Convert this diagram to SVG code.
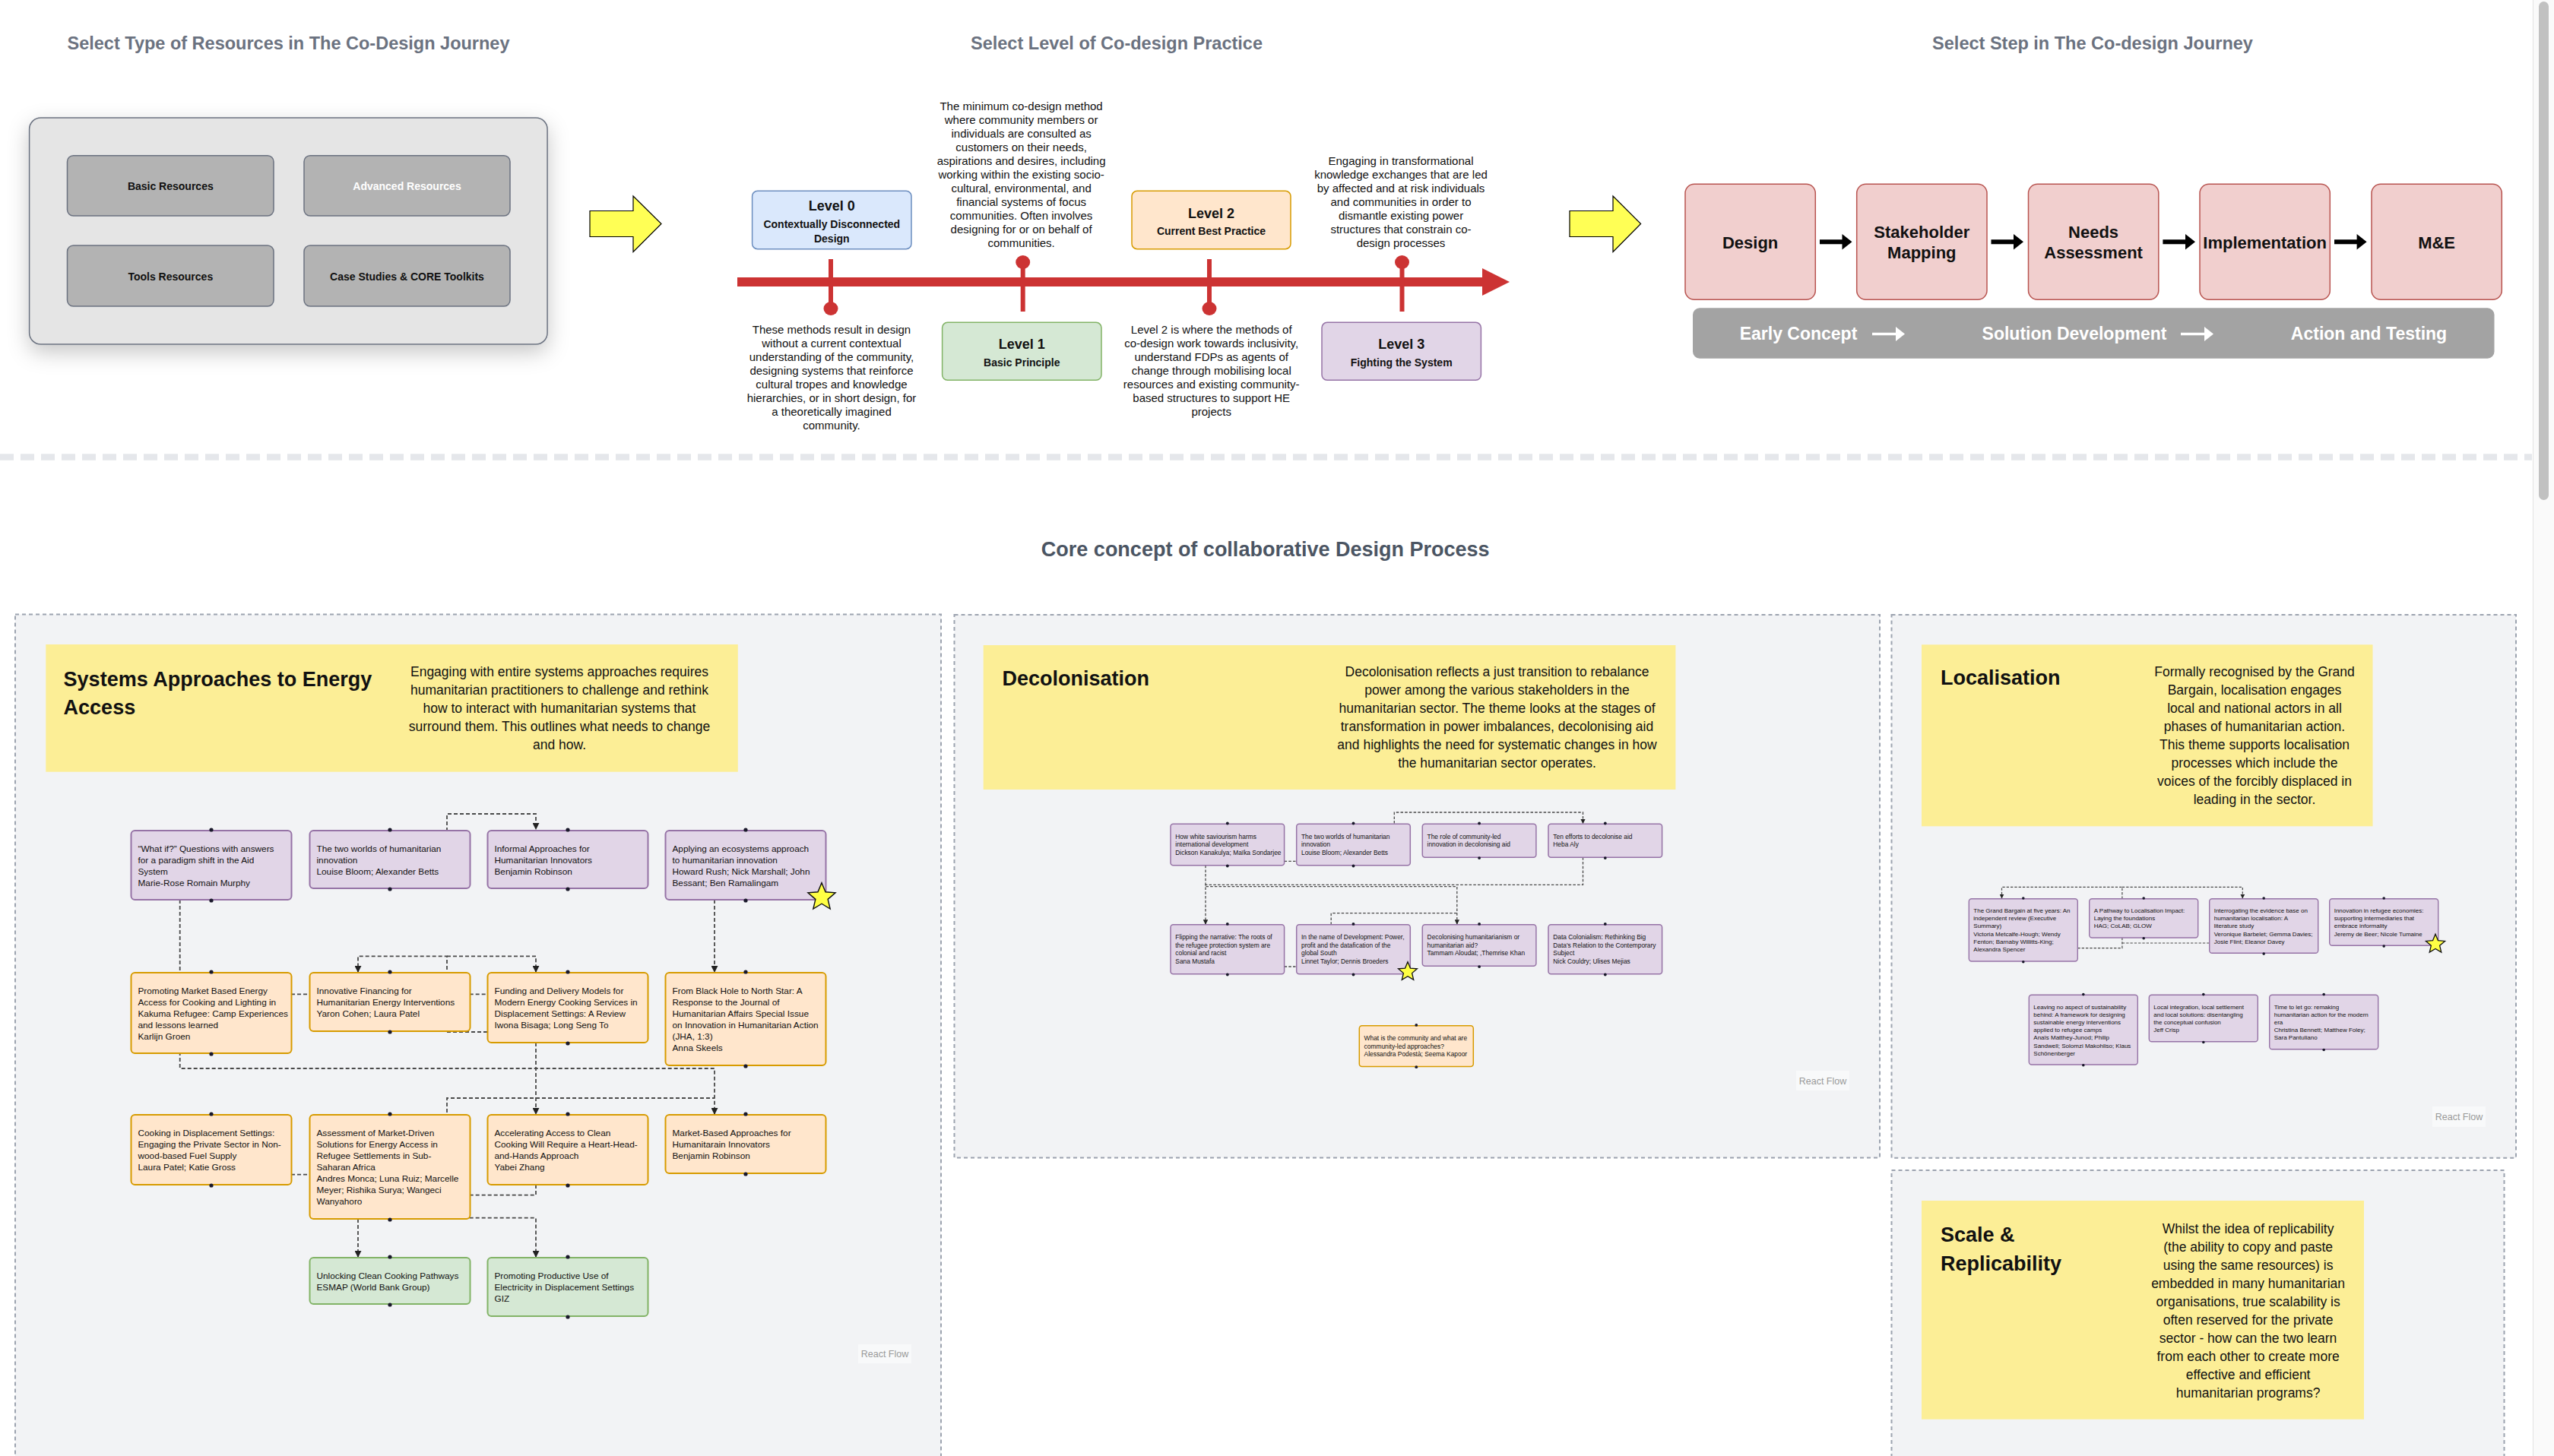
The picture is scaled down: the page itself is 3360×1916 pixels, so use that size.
<svg xmlns="http://www.w3.org/2000/svg" width="3360" height="1916" viewBox="0 0 3360 1916">
<style>
text{font-family:'Liberation Sans',Arial,Helvetica,sans-serif;fill:#111}
.ttl{font-size:23.5px;font-weight:700;fill:#6b7280;text-anchor:middle}
.core{font-size:27px;font-weight:700;fill:#4b5563;text-anchor:middle}
.res{fill:#b3b3b3;stroke:#6b7280;stroke-width:1.5}
.restxt{font-size:14px;font-weight:700;text-anchor:middle}
.lvl-h{font-size:18px;font-weight:700;text-anchor:middle}
.lvl-s{font-size:14px;font-weight:700;text-anchor:middle}
.lvl-d{font-size:15px;text-anchor:middle}
.red{fill:#cc3333}
.tick{stroke:#cc3333;stroke-width:6}
.step{fill:#f1cfce;stroke:#b85450;stroke-width:1.5}
.steptxt{font-size:22px;font-weight:700;text-anchor:middle}
.phase{font-size:23px;font-weight:700;fill:#fff;text-anchor:middle}
.yarrow{fill:#ffff55;stroke:#000;stroke-width:1.2}
.panel{fill:#f2f3f5;stroke:#9ca3af;stroke-width:2;stroke-dasharray:5 4}
.hdr{fill:#fcee96}
.hdr-t{font-size:27px;font-weight:700}
.hdr-d{font-size:17.5px;text-anchor:middle}
.np{fill:#e1d5e7;stroke:#9673a6}
.no{fill:#ffe6cc;stroke:#d79b00}
.ng{fill:#d5e8d4;stroke:#82b366}
.f1 rect{stroke-width:2}
.f2 rect{stroke-width:1.5}
.f3 rect{stroke-width:1.4}
.n1{font-size:11.8px}
.n2{font-size:8.4px}
.n3{font-size:8px}
.h{fill:#1a192b}
.e{fill:none;stroke:#4a4a4a}
.e1{stroke-width:1.8;stroke-dasharray:5 3}
.e2{stroke-width:1.3;stroke-dasharray:3.5 2.2}
.e3{stroke-width:1.2;stroke-dasharray:3.3 2}
.star{fill:#ffff44;stroke:#111;stroke-width:1.4}
.rf rect{fill:#f8f9fa}
.rf text{font-size:12.5px;fill:#999;text-anchor:middle}
</style>
<defs>
  <filter id="shadow" x="-20%" y="-20%" width="140%" height="160%">
    <feDropShadow dx="0" dy="10" stdDeviation="14" flood-color="#000" flood-opacity="0.22"/>
  </filter>
  <marker id="ah1" viewBox="0 0 10 10" refX="9" refY="5" markerWidth="9" markerHeight="9" markerUnits="userSpaceOnUse" orient="auto"><path d="M0,0 L10,5 L0,10 z" fill="#222"/></marker>
  <marker id="ah2" viewBox="0 0 10 10" refX="9" refY="5" markerWidth="6.5" markerHeight="6.5" markerUnits="userSpaceOnUse" orient="auto"><path d="M0,0 L10,5 L0,10 z" fill="#222"/></marker>
  <marker id="ah3" viewBox="0 0 10 10" refX="9" refY="5" markerWidth="6" markerHeight="6" markerUnits="userSpaceOnUse" orient="auto"><path d="M0,0 L10,5 L0,10 z" fill="#222"/></marker>
  <polygon id="starshape" points="0,-1 0.2645,-0.3641 0.9511,-0.309 0.428,0.1391 0.5878,0.809 0,0.45 -0.5878,0.809 -0.428,0.1391 -0.9511,-0.309 -0.2645,-0.3641"/>
</defs>

<rect width="3360" height="1916" fill="#fff"/>

<!-- page scrollbar -->
<g id="scrollbar">
  <rect x="3332" y="0" width="28" height="1916" fill="#fafafa"/>
  <line x1="3332.5" y1="0" x2="3332.5" y2="1916" stroke="#e3e3e3" stroke-width="1"/>
  <rect x="3340" y="2" width="13" height="656" rx="6.5" fill="#c1c1c1"/>
</g>

<!-- ===== section titles ===== -->
<text class="ttl" x="379.5" y="65">Select Type of Resources in The Co-Design Journey</text>
<text class="ttl" x="1469" y="65">Select Level of Co-design Practice</text>
<text class="ttl" x="2753" y="65">Select Step in The Co-design Journey</text>

<!-- ===== resource types ===== -->
<g id="resource-panel">
  <rect x="38.6" y="155" width="681.5" height="298" rx="15" fill="#e5e5e5" stroke="#6b7280" stroke-width="1.5" filter="url(#shadow)"/>
  <g id="res-basic"><rect class="res" x="88.5" y="204.7" width="271.5" height="79.3" rx="8"/><text class="restxt" x="224.3" y="250">Basic Resources</text></g>
  <g id="res-advanced"><rect class="res" x="400" y="204.7" width="271" height="79.3" rx="8"/><text class="restxt" x="535.5" y="250" style="fill:#fff">Advanced Resources</text></g>
  <g id="res-tools"><rect class="res" x="88.5" y="323" width="271.5" height="80" rx="8"/><text class="restxt" x="224.3" y="369">Tools Resources</text></g>
  <g id="res-cases"><rect class="res" x="400" y="323" width="271" height="80" rx="8"/><text class="restxt" x="535.5" y="369">Case Studies &amp; CORE Toolkits</text></g>
</g>

<g id="pointer-arrows">
  <polygon class="yarrow" points="776,277.5 833,277.5 833,258 870,294.5 833,331.5 833,311.5 776,311.5"/>
  <polygon class="yarrow" points="2065,277.5 2122,277.5 2122,258 2158.6,294.5 2122,331.5 2122,311.5 2065,311.5"/>
</g>

<!-- ===== levels of practice timeline ===== -->
<g id="timeline">
  <rect class="red" x="970" y="365" width="982" height="12"/>
  <polygon class="red" points="1950,353 1986,371 1950,389"/>
  <line class="tick" x1="1093" y1="341" x2="1093" y2="402"/><ellipse class="red" cx="1093" cy="406" rx="9.5" ry="9"/>
  <line class="tick" x1="1345.7" y1="349" x2="1345.7" y2="410"/><ellipse class="red" cx="1345.7" cy="345" rx="9.5" ry="9"/>
  <line class="tick" x1="1591" y1="341" x2="1591" y2="402"/><ellipse class="red" cx="1591" cy="406" rx="9.5" ry="9"/>
  <line class="tick" x1="1844.5" y1="349" x2="1844.5" y2="410"/><ellipse class="red" cx="1844.5" cy="345" rx="9.5" ry="9"/>
</g>

<g id="level-0">
  <rect x="989.6" y="251.3" width="209.4" height="76.4" rx="7" fill="#dae8fc" stroke="#6c8ebf" stroke-width="1.5"/>
  <text class="lvl-h" x="1094.3" y="277">Level 0</text>
  <text class="lvl-s" x="1094.3" y="300">Contextually Disconnected</text>
  <text class="lvl-s" x="1094.3" y="319">Design</text>
  <text class="lvl-d" x="1094"><tspan x="1094" y="438.5">These methods result in design</tspan><tspan x="1094" y="456.5">without a current contextual</tspan><tspan x="1094" y="474.5">understanding of the community,</tspan><tspan x="1094" y="492.5">designing systems that reinforce</tspan><tspan x="1094" y="510.5">cultural tropes and knowledge</tspan><tspan x="1094" y="528.5">hierarchies, or in short design, for</tspan><tspan x="1094" y="546.5">a theoretically imagined</tspan><tspan x="1094" y="564.5">community.</tspan></text>
</g>
<g id="level-1">
  <rect x="1239.6" y="424.3" width="209.4" height="76" rx="7" fill="#d5e8d4" stroke="#82b366" stroke-width="1.5"/>
  <text class="lvl-h" x="1344.3" y="458.6">Level 1</text>
  <text class="lvl-s" x="1344.3" y="482">Basic Principle</text>
  <text class="lvl-d" x="1343.6"><tspan x="1343.6" y="144.5">The minimum co-design method</tspan><tspan x="1343.6" y="162.5">where community members or</tspan><tspan x="1343.6" y="180.5">individuals are consulted as</tspan><tspan x="1343.6" y="198.5">customers on their needs,</tspan><tspan x="1343.6" y="216.5">aspirations and desires, including</tspan><tspan x="1343.6" y="234.5">working within the existing socio-</tspan><tspan x="1343.6" y="252.5">cultural, environmental, and</tspan><tspan x="1343.6" y="270.5">financial systems of focus</tspan><tspan x="1343.6" y="288.5">communities. Often involves</tspan><tspan x="1343.6" y="306.5">designing for or on behalf of</tspan><tspan x="1343.6" y="324.5">communities.</tspan></text>
</g>
<g id="level-2">
  <rect x="1489" y="251.3" width="209" height="76.4" rx="7" fill="#ffe6cc" stroke="#d79b00" stroke-width="1.5"/>
  <text class="lvl-h" x="1593.5" y="287">Level 2</text>
  <text class="lvl-s" x="1593.5" y="309">Current Best Practice</text>
  <text class="lvl-d" x="1593.7"><tspan x="1593.7" y="438.5">Level 2 is where the methods of</tspan><tspan x="1593.7" y="456.5">co-design work towards inclusivity,</tspan><tspan x="1593.7" y="474.5">understand FDPs as agents of</tspan><tspan x="1593.7" y="492.5">change through mobilising local</tspan><tspan x="1593.7" y="510.5">resources and existing community-</tspan><tspan x="1593.7" y="528.5">based structures to support HE</tspan><tspan x="1593.7" y="546.5">projects</tspan></text>
</g>
<g id="level-3">
  <rect x="1739" y="424.3" width="209.4" height="76" rx="7" fill="#e1d5e7" stroke="#9673a6" stroke-width="1.5"/>
  <text class="lvl-h" x="1843.7" y="458.6">Level 3</text>
  <text class="lvl-s" x="1843.7" y="482">Fighting the System</text>
  <text class="lvl-d" x="1843"><tspan x="1843" y="216.5">Engaging in transformational</tspan><tspan x="1843" y="234.5">knowledge exchanges that are led</tspan><tspan x="1843" y="252.5">by affected and at risk individuals</tspan><tspan x="1843" y="270.5">and communities in order to</tspan><tspan x="1843" y="288.5">dismantle existing power</tspan><tspan x="1843" y="306.5">structures that constrain co-</tspan><tspan x="1843" y="324.5">design processes</tspan></text>
</g>

<!-- ===== journey steps ===== -->
<g id="step-design"><rect class="step" x="2217" y="242.3" width="171.3" height="152" rx="12"/><text class="steptxt" x="2302.6" y="327">Design</text></g>
<g id="step-stakeholder"><rect class="step" x="2442.7" y="242.3" width="171.3" height="152" rx="12"/><text class="steptxt" x="2528.3" y="312.7">Stakeholder</text><text class="steptxt" x="2528.3" y="340">Mapping</text></g>
<g id="step-needs"><rect class="step" x="2668.5" y="242.3" width="171.3" height="152" rx="12"/><text class="steptxt" x="2754.1" y="312.7">Needs</text><text class="steptxt" x="2754.1" y="340">Assessment</text></g>
<g id="step-implementation"><rect class="step" x="2894" y="242.3" width="171.3" height="152" rx="12"/><text class="steptxt" x="2979.6" y="327">Implementation</text></g>
<g id="step-me"><rect class="step" x="3120" y="242.3" width="171.3" height="152" rx="12"/><text class="steptxt" x="3205.6" y="327">M&amp;E</text></g>
<g id="step-arrows" fill="#000">
  <polygon points="2394,315.3 2423.5,315.3 2423.5,308 2436.5,318.3 2423.5,328.6 2423.5,321.3 2394,321.3"/>
  <polygon points="2619.5,315.3 2649,315.3 2649,308 2662,318.3 2649,328.6 2649,321.3 2619.5,321.3"/>
  <polygon points="2845.4,315.3 2875,315.3 2875,308 2888,318.3 2875,328.6 2875,321.3 2845.4,321.3"/>
  <polygon points="3071,315.3 3100.6,315.3 3100.6,308 3113.6,318.3 3100.6,328.6 3100.6,321.3 3071,321.3"/>
</g>
<g id="phases">
  <rect x="2227" y="405.3" width="1054.5" height="66.4" rx="9" fill="#a3a3a3"/>
  <text class="phase" x="2366" y="447">Early Concept</text>
  <polygon fill="#fff" points="2463,437.7 2494,437.7 2494,430 2506,439.5 2494,449 2494,441.3 2463,441.3"/>
  <text class="phase" x="2729" y="447">Solution Development</text>
  <polygon fill="#fff" points="2869,437.7 2900,437.7 2900,430 2912,439.5 2900,449 2900,441.3 2869,441.3"/>
  <text class="phase" x="3116.5" y="447">Action and Testing</text>
</g>

<!-- section divider -->
<line x1="0" y1="601.5" x2="3331" y2="601.5" stroke="#e5e7eb" stroke-width="8.5" stroke-dasharray="18 9"/>

<text class="core" x="1664.7" y="732">Core concept of collaborative Design Process</text>

<!-- ===== theme panels ===== -->
<rect class="panel" x="20" y="808.5" width="1218" height="1130"/>
<rect class="panel" x="1255.5" y="809" width="1217.5" height="714.5"/>
<rect class="panel" x="2488.5" y="809" width="821.5" height="714.7"/>
<rect class="panel" x="2488.5" y="1540" width="806" height="400"/>

<!-- Systems approaches header -->
<g id="hdr-systems">
  <rect class="hdr" x="60.3" y="848" width="910.5" height="167.7"/>
  <text class="hdr-t" x="83.6" y="903">Systems Approaches to Energy</text>
  <text class="hdr-t" x="83.6" y="940">Access</text>
  <text class="hdr-d" x="736"><tspan x="736" y="890.3">Engaging with entire systems approaches requires</tspan><tspan x="736" y="914.3">humanitarian practitioners to challenge and rethink</tspan><tspan x="736" y="938.3">how to interact with humanitarian systems that</tspan><tspan x="736" y="962.3">surround them. This outlines what needs to change</tspan><tspan x="736" y="986.3">and how.</tspan></text>
</g>

<!-- Decolonisation header -->
<g id="hdr-decolonisation">
  <rect class="hdr" x="1293.7" y="849" width="910.7" height="190"/>
  <text class="hdr-t" x="1318.5" y="901.5">Decolonisation</text>
  <text class="hdr-d" x="1969.5"><tspan x="1969.5" y="890.3">Decolonisation reflects a just transition to rebalance</tspan><tspan x="1969.5" y="914.3">power among the various stakeholders in the</tspan><tspan x="1969.5" y="938.3">humanitarian sector. The theme looks at the stages of</tspan><tspan x="1969.5" y="962.3">transformation in power imbalances, decolonising aid</tspan><tspan x="1969.5" y="986.3">and highlights the need for systematic changes in how</tspan><tspan x="1969.5" y="1010.3">the humanitarian sector operates.</tspan></text>
</g>

<!-- Localisation header -->
<g id="hdr-localisation">
  <rect class="hdr" x="2528" y="848.3" width="593.5" height="239"/>
  <text class="hdr-t" x="2553" y="901">Localisation</text>
  <text class="hdr-d" x="2966"><tspan x="2966" y="890.3">Formally recognised by the Grand</tspan><tspan x="2966" y="914.3">Bargain, localisation engages</tspan><tspan x="2966" y="938.3">local and national actors in all</tspan><tspan x="2966" y="962.3">phases of humanitarian action.</tspan><tspan x="2966" y="986.3">This theme supports localisation</tspan><tspan x="2966" y="1010.3">processes which include the</tspan><tspan x="2966" y="1034.3">voices of the forcibly displaced in</tspan><tspan x="2966" y="1058.3">leading in the sector.</tspan></text>
</g>

<!-- Scale & Replicability header -->
<g id="hdr-scale">
  <rect class="hdr" x="2528" y="1580" width="582" height="287.7"/>
  <text class="hdr-t" x="2553" y="1633.5">Scale &amp;</text>
  <text class="hdr-t" x="2553" y="1672">Replicability</text>
  <text class="hdr-d" x="2957.6"><tspan x="2957.6" y="1622.7">Whilst the idea of replicability</tspan><tspan x="2957.6" y="1646.7">(the ability to copy and paste</tspan><tspan x="2957.6" y="1670.7">using the same resources) is</tspan><tspan x="2957.6" y="1694.7">embedded in many humanitarian</tspan><tspan x="2957.6" y="1718.7">organisations, true scalability is</tspan><tspan x="2957.6" y="1742.7">often reserved for the private</tspan><tspan x="2957.6" y="1766.7">sector - how can the two learn</tspan><tspan x="2957.6" y="1790.7">from each other to create more</tspan><tspan x="2957.6" y="1814.7">effective and efficient</tspan><tspan x="2957.6" y="1838.7">humanitarian programs?</tspan></text>
</g>

<!-- ===== connectors (drawn beneath nodes) ===== -->
<g id="connectors">
  <!-- systems approaches -->
  <path class="e e1" d="M588 1110 V1071 H705 V1091" marker-end="url(#ah1)"/>
  <path class="e e1" d="M236.7 1184 V1406 H940 V1466" marker-end="url(#ah1)"/>
  <path class="e e1" d="M940 1184 V1279" marker-end="url(#ah1)"/>
  <path class="e e1" d="M588 1300 V1258.3 H471 V1279" marker-end="url(#ah1)"/>
  <path class="e e1" d="M588 1258.3 H705 V1279" marker-end="url(#ah1)"/>
  <path class="e e1" d="M383 1308.3 H408"/>
  <path class="e e1" d="M617.7 1308.3 H642"/>
  <path class="e e1" d="M588 1358 H642"/>
  <path class="e e1" d="M705 1372 V1466" marker-end="url(#ah1)"/>
  <path class="e e1" d="M588 1480 V1445 H940"/>
  <path class="e e1" d="M383 1545.7 H408"/>
  <path class="e e1" d="M705 1559 V1572.7 H617.7"/>
  <path class="e e1" d="M617.7 1602.7 H705 V1654" marker-end="url(#ah1)"/>
  <path class="e e1" d="M471 1604 V1654" marker-end="url(#ah1)"/>
  <!-- decolonisation -->
  <path class="e e2" d="M1834.3 1095 V1069 H2082.5 V1083.5" marker-end="url(#ah2)"/>
  <path class="e e2" d="M1689.6 1133.3 H1705.7"/>
  <path class="e e2" d="M2082.5 1128.3 V1164.3 H1586 V1216" marker-end="url(#ah2)"/>
  <path class="e e2" d="M1586 1138.7 V1166.7 H1916.8 V1216" marker-end="url(#ah2)"/>
  <path class="e e2" d="M1751.2 1216.7 V1201.7 H1916.8"/>
  <path class="e e2" d="M1689.6 1272 H1705.7"/>
  <!-- localisation -->
  <path class="e e3" d="M2791.9 1182.7 V1167.3 H2633.5 V1182" marker-end="url(#ah3)"/>
  <path class="e e3" d="M2791.9 1167.3 H2950.3 V1182" marker-end="url(#ah3)"/>
  <path class="e e3" d="M2791.9 1234 V1247.7 H2733.1"/>
  <path class="e e3" d="M2791.9 1241 H2906.7"/>
</g>

<!-- ===== Systems approaches nodes ===== -->
<g class="f1">
<g id="sys-what-if"><rect class="np" x="172.5" y="1093" width="211" height="91" rx="5"/>
  <text class="n1"><tspan x="181.5" y="1120.5">“What if?” Questions with answers</tspan><tspan x="181.5" y="1135.5">for a paradigm shift in the Aid</tspan><tspan x="181.5" y="1150.5">System</tspan><tspan x="181.5" y="1165.5">Marie-Rose Romain Murphy</tspan></text>
  <circle class="h" cx="278" cy="1092" r="2.6"/><circle class="h" cx="278" cy="1185" r="2.6"/></g>
<g id="sys-two-worlds"><rect class="np" x="407.5" y="1093" width="211" height="76" rx="5"/>
  <text class="n1"><tspan x="416.5" y="1120.5">The two worlds of humanitarian</tspan><tspan x="416.5" y="1135.5">innovation</tspan><tspan x="416.5" y="1150.5">Louise Bloom; Alexander Betts</tspan></text>
  <circle class="h" cx="513" cy="1092" r="2.6"/><circle class="h" cx="513" cy="1170" r="2.6"/></g>
<g id="sys-informal"><rect class="np" x="641.5" y="1093" width="211" height="76" rx="5"/>
  <text class="n1"><tspan x="650.5" y="1120.5">Informal Approaches for</tspan><tspan x="650.5" y="1135.5">Humanitarian Innovators</tspan><tspan x="650.5" y="1150.5">Benjamin Robinson</tspan></text>
  <circle class="h" cx="747" cy="1092" r="2.6"/><circle class="h" cx="747" cy="1170" r="2.6"/></g>
<g id="sys-ecosystems"><rect class="np" x="875.5" y="1093" width="211" height="91" rx="5"/>
  <text class="n1"><tspan x="884.5" y="1120.5">Applying an ecosystems approach</tspan><tspan x="884.5" y="1135.5">to humanitarian innovation</tspan><tspan x="884.5" y="1150.5">Howard Rush; Nick Marshall; John</tspan><tspan x="884.5" y="1165.5">Bessant; Ben Ramalingam</tspan></text>
  <circle class="h" cx="981" cy="1092" r="2.6"/><circle class="h" cx="981" cy="1185" r="2.6"/>
  <use href="#starshape" class="star" transform="translate(1081 1180.7) scale(19)" vector-effect="non-scaling-stroke" style="stroke-width:0.075"/></g>

<g id="sys-market-kakuma"><rect class="no" x="172.5" y="1280" width="211" height="106" rx="5"/>
  <text class="n1"><tspan x="181.5" y="1307.5">Promoting Market Based Energy</tspan><tspan x="181.5" y="1322.5">Access for Cooking and Lighting in</tspan><tspan x="181.5" y="1337.5">Kakuma Refugee: Camp Experiences</tspan><tspan x="181.5" y="1352.5">and lessons learned</tspan><tspan x="181.5" y="1367.5">Karlijn Groen</tspan></text>
  <circle class="h" cx="278" cy="1279" r="2.6"/><circle class="h" cx="278" cy="1387" r="2.6"/></g>
<g id="sys-innovative-financing"><rect class="no" x="407.5" y="1280" width="211" height="77" rx="5"/>
  <text class="n1"><tspan x="416.5" y="1307.5">Innovative Financing for</tspan><tspan x="416.5" y="1322.5">Humanitarian Energy Interventions</tspan><tspan x="416.5" y="1337.5">Yaron Cohen; Laura Patel</tspan></text>
  <circle class="h" cx="513" cy="1279" r="2.6"/><circle class="h" cx="513" cy="1358" r="2.6"/></g>
<g id="sys-funding-delivery"><rect class="no" x="641.5" y="1280" width="211" height="92" rx="5"/>
  <text class="n1"><tspan x="650.5" y="1307.5">Funding and Delivery Models for</tspan><tspan x="650.5" y="1322.5">Modern Energy Cooking Services in</tspan><tspan x="650.5" y="1337.5">Displacement Settings: A Review</tspan><tspan x="650.5" y="1352.5">Iwona Bisaga; Long Seng To</tspan></text>
  <circle class="h" cx="747" cy="1279" r="2.6"/><circle class="h" cx="747" cy="1373" r="2.6"/></g>
<g id="sys-black-hole"><rect class="no" x="875.5" y="1280" width="211" height="122" rx="5"/>
  <text class="n1"><tspan x="884.5" y="1307.5">From Black Hole to North Star: A</tspan><tspan x="884.5" y="1322.5">Response to the Journal of</tspan><tspan x="884.5" y="1337.5">Humanitarian Affairs Special Issue</tspan><tspan x="884.5" y="1352.5">on Innovation in Humanitarian Action</tspan><tspan x="884.5" y="1367.5">(JHA, 1:3)</tspan><tspan x="884.5" y="1382.5">Anna Skeels</tspan></text>
  <circle class="h" cx="981" cy="1279" r="2.6"/><circle class="h" cx="981" cy="1403" r="2.6"/></g>

<g id="sys-cooking-displacement"><rect class="no" x="172.5" y="1467" width="211" height="92" rx="5"/>
  <text class="n1"><tspan x="181.5" y="1494.5">Cooking in Displacement Settings:</tspan><tspan x="181.5" y="1509.5">Engaging the Private Sector in Non-</tspan><tspan x="181.5" y="1524.5">wood-based Fuel Supply</tspan><tspan x="181.5" y="1539.5">Laura Patel; Katie Gross</tspan></text>
  <circle class="h" cx="278" cy="1466" r="2.6"/><circle class="h" cx="278" cy="1560" r="2.6"/></g>
<g id="sys-assessment"><rect class="no" x="407.5" y="1467" width="211" height="137" rx="5"/>
  <text class="n1"><tspan x="416.5" y="1494.5">Assessment of Market-Driven</tspan><tspan x="416.5" y="1509.5">Solutions for Energy Access in</tspan><tspan x="416.5" y="1524.5">Refugee Settlements in Sub-</tspan><tspan x="416.5" y="1539.5">Saharan Africa</tspan><tspan x="416.5" y="1554.5">Andres Monca; Luna Ruiz; Marcelle</tspan><tspan x="416.5" y="1569.5">Meyer; Rishika Surya; Wangeci</tspan><tspan x="416.5" y="1584.5">Wanyahoro</tspan></text>
  <circle class="h" cx="513" cy="1466" r="2.6"/><circle class="h" cx="513" cy="1605" r="2.6"/></g>
<g id="sys-accelerating"><rect class="no" x="641.5" y="1467" width="211" height="92" rx="5"/>
  <text class="n1"><tspan x="650.5" y="1494.5">Accelerating Access to Clean</tspan><tspan x="650.5" y="1509.5">Cooking Will Require a Heart-Head-</tspan><tspan x="650.5" y="1524.5">and-Hands Approach</tspan><tspan x="650.5" y="1539.5">Yabei Zhang</tspan></text>
  <circle class="h" cx="747" cy="1466" r="2.6"/><circle class="h" cx="747" cy="1560" r="2.6"/></g>
<g id="sys-market-based"><rect class="no" x="875.5" y="1467" width="211" height="77" rx="5"/>
  <text class="n1"><tspan x="884.5" y="1494.5">Market-Based Approaches for</tspan><tspan x="884.5" y="1509.5">Humanitarain Innovators</tspan><tspan x="884.5" y="1524.5">Benjamin Robinson</tspan></text>
  <circle class="h" cx="981" cy="1466" r="2.6"/><circle class="h" cx="981" cy="1545" r="2.6"/></g>

<g id="sys-unlocking"><rect class="ng" x="407.5" y="1655" width="211" height="61" rx="5"/>
  <text class="n1"><tspan x="416.5" y="1682.5">Unlocking Clean Cooking Pathways</tspan><tspan x="416.5" y="1697.5">ESMAP (World Bank Group)</tspan></text>
  <circle class="h" cx="513" cy="1654" r="2.6"/><circle class="h" cx="513" cy="1717" r="2.6"/></g>
<g id="sys-productive-use"><rect class="ng" x="641.5" y="1655" width="211" height="77" rx="5"/>
  <text class="n1"><tspan x="650.5" y="1682.5">Promoting Productive Use of</tspan><tspan x="650.5" y="1697.5">Electricity in Displacement Settings</tspan><tspan x="650.5" y="1712.5">GIZ</tspan></text>
  <circle class="h" cx="747" cy="1654" r="2.6"/><circle class="h" cx="747" cy="1733" r="2.6"/></g>
</g>

<!-- ===== Decolonisation nodes ===== -->
<g class="f2">
<g id="dec-saviourism"><rect class="np" x="1540" y="1084.3" width="149.6" height="54.4" rx="3.5"/>
  <text class="n2"><tspan x="1546.3" y="1103.8">How white saviourism harms</tspan><tspan x="1546.3" y="1114.4">international development</tspan><tspan x="1546.3" y="1125">Dickson Kanakulya; Maïka Sondarjee</tspan></text>
  <circle class="h" cx="1614.8" cy="1083.5" r="1.9"/><circle class="h" cx="1614.8" cy="1139.5" r="1.9"/></g>
<g id="dec-two-worlds"><rect class="np" x="1705.7" y="1084.3" width="149.6" height="54.4" rx="3.5"/>
  <text class="n2"><tspan x="1712" y="1103.8">The two worlds of humanitarian</tspan><tspan x="1712" y="1114.4">innovation</tspan><tspan x="1712" y="1125">Louise Bloom; Alexander Betts</tspan></text>
  <circle class="h" cx="1780.5" cy="1083.5" r="1.9"/><circle class="h" cx="1780.5" cy="1139.5" r="1.9"/></g>
<g id="dec-community-led"><rect class="np" x="1871.3" y="1084.3" width="149.6" height="44" rx="3.5"/>
  <text class="n2"><tspan x="1877.6" y="1103.8">The role of community-led</tspan><tspan x="1877.6" y="1114.4">innovation in decolonising aid</tspan></text>
  <circle class="h" cx="1946.1" cy="1083.5" r="1.9"/><circle class="h" cx="1946.1" cy="1129.1" r="1.9"/></g>
<g id="dec-ten-efforts"><rect class="np" x="2037" y="1084.3" width="149.6" height="44" rx="3.5"/>
  <text class="n2"><tspan x="2043.3" y="1103.8">Ten efforts to decolonise aid</tspan><tspan x="2043.3" y="1114.4">Heba Aly</tspan></text>
  <circle class="h" cx="2111.8" cy="1083.5" r="1.9"/><circle class="h" cx="2111.8" cy="1129.1" r="1.9"/></g>
<g id="dec-flipping"><rect class="np" x="1540" y="1216.7" width="149.6" height="65" rx="3.5"/>
  <text class="n2"><tspan x="1546.3" y="1236.2">Flipping the narrative: The roots of</tspan><tspan x="1546.3" y="1246.8">the refugee protection system are</tspan><tspan x="1546.3" y="1257.4">colonial and racist</tspan><tspan x="1546.3" y="1268">Sana Mustafa</tspan></text>
  <circle class="h" cx="1614.8" cy="1215.9" r="1.9"/><circle class="h" cx="1614.8" cy="1282.5" r="1.9"/></g>
<g id="dec-development"><rect class="np" x="1705.7" y="1216.7" width="149.6" height="65" rx="3.5"/>
  <text class="n2"><tspan x="1712" y="1236.2">In the name of Development: Power,</tspan><tspan x="1712" y="1246.8">profit and the datafication of the</tspan><tspan x="1712" y="1257.4">global South</tspan><tspan x="1712" y="1268">Linnet Taylor; Dennis Broeders</tspan></text>
  <circle class="h" cx="1780.5" cy="1215.9" r="1.9"/><circle class="h" cx="1780.5" cy="1282.5" r="1.9"/>
  <use href="#starshape" class="star" transform="translate(1852 1278.8) scale(13.1)" vector-effect="non-scaling-stroke" style="stroke-width:0.1"/></g>
<g id="dec-humanitarianism"><rect class="np" x="1871.3" y="1216.7" width="149.6" height="54.6" rx="3.5"/>
  <text class="n2"><tspan x="1877.6" y="1236.2">Decolonising humanitarianism or</tspan><tspan x="1877.6" y="1246.8">humanitarian aid?</tspan><tspan x="1877.6" y="1257.4">Tammam Aloudat; ,Themrise Khan</tspan></text>
  <circle class="h" cx="1946.1" cy="1215.9" r="1.9"/><circle class="h" cx="1946.1" cy="1272.1" r="1.9"/></g>
<g id="dec-data-colonialism"><rect class="np" x="2037" y="1216.7" width="149.6" height="65" rx="3.5"/>
  <text class="n2"><tspan x="2043.3" y="1236.2">Data Colonialism: Rethinking Big</tspan><tspan x="2043.3" y="1246.8">Data's Relation to the Contemporary</tspan><tspan x="2043.3" y="1257.4">Subject</tspan><tspan x="2043.3" y="1268">Nick Couldry; Ulises Mejias</tspan></text>
  <circle class="h" cx="2111.8" cy="1215.9" r="1.9"/><circle class="h" cx="2111.8" cy="1282.5" r="1.9"/></g>
<g id="dec-what-is-community"><rect class="no" x="1788.3" y="1349.7" width="150" height="53.7" rx="3.5"/>
  <text class="n2"><tspan x="1794.6" y="1369.2">What is the community and what are</tspan><tspan x="1794.6" y="1379.8">community-led approaches?</tspan><tspan x="1794.6" y="1390.4">Alessandra Podestà; Seema Kapoor</tspan></text>
  <circle class="h" cx="1863.3" cy="1348.9" r="1.9"/><circle class="h" cx="1863.3" cy="1404.2" r="1.9"/></g>
</g>

<!-- ===== Localisation nodes ===== -->
<g class="f3">
<g id="loc-grand-bargain"><rect class="np" x="2590.3" y="1182.7" width="143" height="82.3" rx="3.5"/>
  <text class="n3"><tspan x="2596.3" y="1201">The Grand Bargain at five years: An</tspan><tspan x="2596.3" y="1211.2">independent review (Executive</tspan><tspan x="2596.3" y="1221.4">Summary)</tspan><tspan x="2596.3" y="1231.6">Victoria Metcalfe-Hough; Wendy</tspan><tspan x="2596.3" y="1241.8">Fenton; Barnaby Willitts-King;</tspan><tspan x="2596.3" y="1252">Alexandra Spencer</tspan></text>
  <circle class="h" cx="2661.8" cy="1182" r="1.8"/><circle class="h" cx="2661.8" cy="1265.8" r="1.8"/></g>
<g id="loc-pathway"><rect class="np" x="2748.7" y="1182.7" width="143" height="51.3" rx="3.5"/>
  <text class="n3"><tspan x="2754.7" y="1201">A Pathway to Localisation Impact:</tspan><tspan x="2754.7" y="1211.2">Laying the foundations</tspan><tspan x="2754.7" y="1221.4">HAG; CoLAB; GLOW</tspan></text>
  <circle class="h" cx="2820.2" cy="1182" r="1.8"/><circle class="h" cx="2820.2" cy="1234.8" r="1.8"/></g>
<g id="loc-evidence-base"><rect class="np" x="2906.7" y="1182.7" width="143" height="71.6" rx="3.5"/>
  <text class="n3"><tspan x="2912.7" y="1201">Interrogating the evidence base on</tspan><tspan x="2912.7" y="1211.2">humanitarian localisation: A</tspan><tspan x="2912.7" y="1221.4">literature study</tspan><tspan x="2912.7" y="1231.6">Veronique Barbelet; Gemma Davies;</tspan><tspan x="2912.7" y="1241.8">Josie Flint; Eleanor Davey</tspan></text>
  <circle class="h" cx="2978.2" cy="1182" r="1.8"/><circle class="h" cx="2978.2" cy="1255.1" r="1.8"/></g>
<g id="loc-refugee-economies"><rect class="np" x="3064.7" y="1182.7" width="143" height="61.6" rx="3.5"/>
  <text class="n3"><tspan x="3070.7" y="1201">Innovation in refugee economies:</tspan><tspan x="3070.7" y="1211.2">supporting intermediaries that</tspan><tspan x="3070.7" y="1221.4">embrace informality</tspan><tspan x="3070.7" y="1231.6">Jeremy de Beer; Nicole Tumaine</tspan></text>
  <circle class="h" cx="3136.2" cy="1182" r="1.8"/><circle class="h" cx="3136.2" cy="1245.1" r="1.8"/>
  <use href="#starshape" class="star" transform="translate(3204 1242.5) scale(13.2)" vector-effect="non-scaling-stroke" style="stroke-width:0.1"/></g>
<g id="loc-sustainability"><rect class="np" x="2669.3" y="1309.3" width="143" height="91.7" rx="3.5"/>
  <text class="n3"><tspan x="2675.3" y="1327.6">Leaving no aspect of sustainability</tspan><tspan x="2675.3" y="1337.8">behind: A framework for designing</tspan><tspan x="2675.3" y="1348">sustainable energy interventions</tspan><tspan x="2675.3" y="1358.2">applied to refugee camps</tspan><tspan x="2675.3" y="1368.4">Anaïs Matthey-Junod; Philip</tspan><tspan x="2675.3" y="1378.6">Sandwell; Solomzi Makohliso; Klaus</tspan><tspan x="2675.3" y="1388.8">Schönenberger</tspan></text>
  <circle class="h" cx="2740.8" cy="1308.6" r="1.8"/><circle class="h" cx="2740.8" cy="1401.8" r="1.8"/></g>
<g id="loc-local-integration"><rect class="np" x="2827.3" y="1309.3" width="143" height="61.4" rx="3.5"/>
  <text class="n3"><tspan x="2833.3" y="1327.6">Local integration, local settlement</tspan><tspan x="2833.3" y="1337.8">and local solutions: disentangling</tspan><tspan x="2833.3" y="1348">the conceptual confusion</tspan><tspan x="2833.3" y="1358.2">Jeff Crisp</tspan></text>
  <circle class="h" cx="2898.8" cy="1308.6" r="1.8"/><circle class="h" cx="2898.8" cy="1371.5" r="1.8"/></g>
<g id="loc-time-to-let-go"><rect class="np" x="2985.7" y="1309.3" width="143" height="71.4" rx="3.5"/>
  <text class="n3"><tspan x="2991.7" y="1327.6">Time to let go: remaking</tspan><tspan x="2991.7" y="1337.8">humanitarian action for the modern</tspan><tspan x="2991.7" y="1348">era</tspan><tspan x="2991.7" y="1358.2">Christina Bennett; Matthew Foley;</tspan><tspan x="2991.7" y="1368.4">Sara Pantuliano</tspan></text>
  <circle class="h" cx="3057.2" cy="1308.6" r="1.8"/><circle class="h" cx="3057.2" cy="1381.5" r="1.8"/></g>
</g>

<!-- flow canvas attributions -->
<g class="rf">
  <rect x="1129" y="1769" width="70" height="25"/><text x="1164" y="1786">React Flow</text>
  <rect x="2363" y="1409" width="70" height="26"/><text x="2398" y="1426.5">React Flow</text>
  <rect x="3200" y="1456" width="70" height="27"/><text x="3235" y="1474">React Flow</text>
</g>
</svg>
